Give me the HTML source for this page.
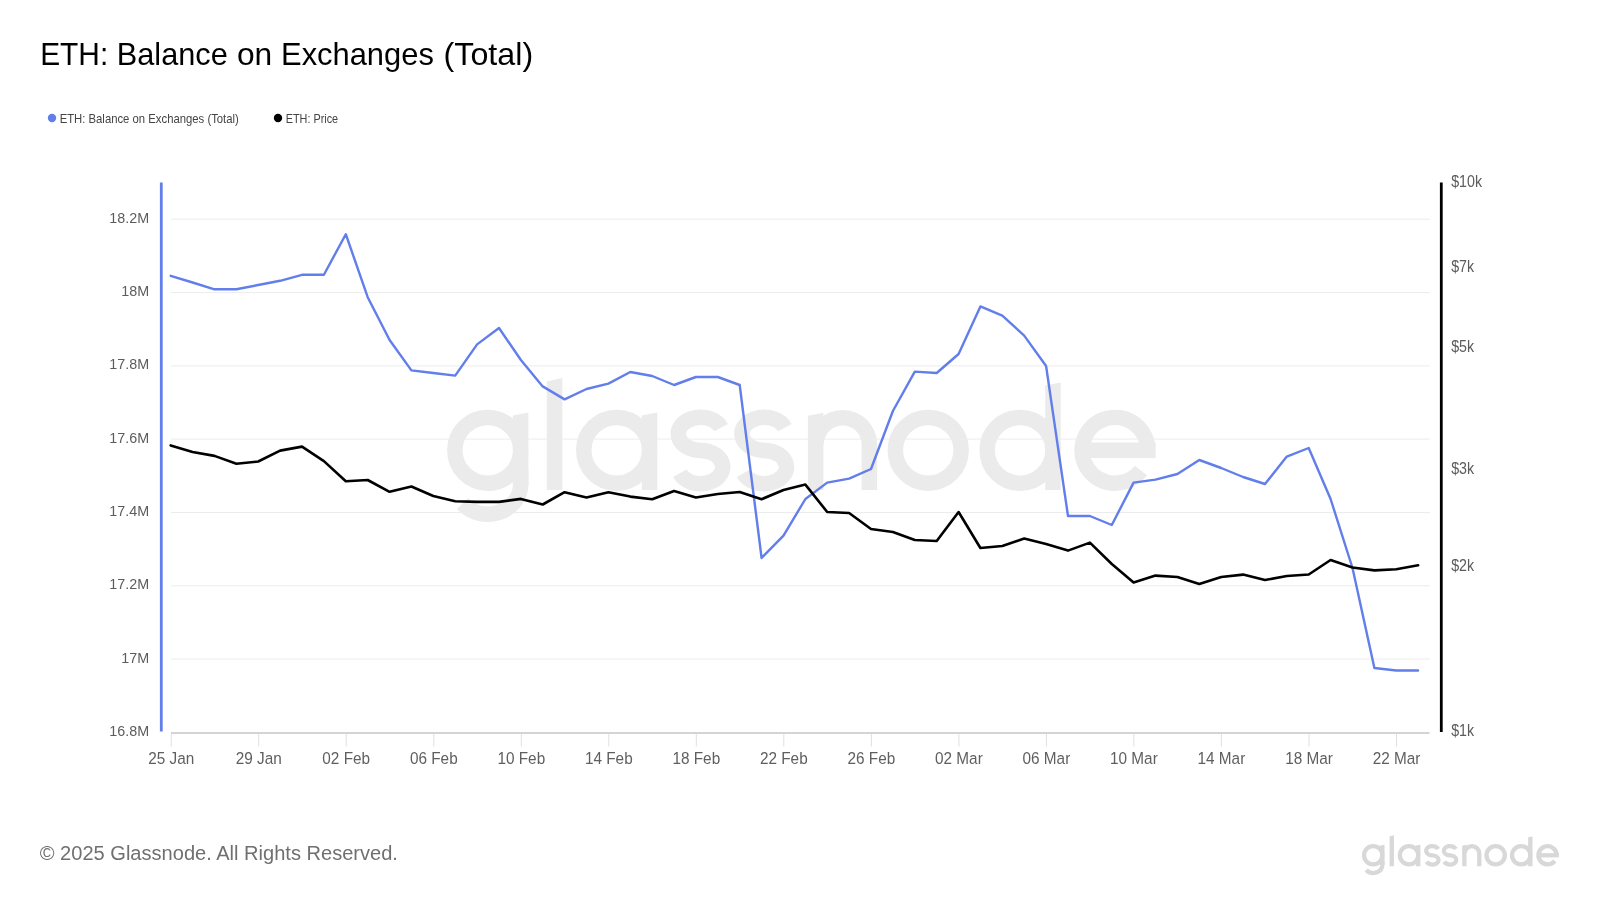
<!DOCTYPE html>
<html><head><meta charset="utf-8"><title>ETH: Balance on Exchanges (Total)</title>
<style>html,body{margin:0;padding:0;background:#fff;width:1600px;height:900px;overflow:hidden}
svg{position:absolute;left:0;top:0;display:block;will-change:transform}</style></head>
<body><svg width="1600" height="900" viewBox="0 0 1600 900">
<defs><g id="gn"><circle cx="487.75" cy="450.3" r="32.9" fill="none" stroke-width="15.5"/>
<path d="M512.90 415.50L528.40 412.50L528.40 486.00L512.90 486.00Z" stroke="none"/>
<path d="M520.65 470L520.65 484.5A32.9 29.75 0 0 1 462.55 503.62" fill="none" stroke-width="15.5"/>
<path d="M546.80 381.60L562.30 378.00L562.30 490.00L546.80 490.00Z" stroke="none"/>
<circle cx="616.65" cy="450.3" r="32.9" fill="none" stroke-width="15.5"/>
<path d="M641.80 415.50L657.30 412.50L657.30 490.00L641.80 490.00Z" stroke="none"/>
<path d="M721.13 427.63A22.25 16.6 0 1 0 700.50 450.45A22.25 16.6 0 1 1 679.87 473.27" fill="none" stroke-width="15.5"/>
<path d="M784.83 427.63A22.25 16.6 0 1 0 764.20 450.45A22.25 16.6 0 1 1 743.57 473.27" fill="none" stroke-width="15.5"/>
<path d="M807.90 415.80L823.40 412.70L823.40 490.00L807.90 490.00Z" stroke="none"/>
<path d="M816.05 444.3A26.65 26.65 0 0 1 869.35 444.3L869.35 490.0" fill="none" stroke-width="15.5"/>
<circle cx="928.25" cy="450.3" r="32.9" fill="none" stroke-width="15.5"/>
<circle cx="1020.05" cy="450.3" r="32.9" fill="none" stroke-width="15.5"/>
<path d="M1045.20 385.50L1060.70 382.40L1060.70 490.00L1045.20 490.00Z" stroke="none"/>
<path d="M1147.85 450.3A32.9 32.9 0 1 0 1140.88 470.56" fill="none" stroke-width="15.5"/>
<rect x="1082.05" y="442.55" width="73.55" height="15.5" stroke="none"/></g></defs>
<g fill="#ebebeb" stroke="#ebebeb"><use href="#gn"/></g>
<line x1="171" y1="219.2" x2="1430" y2="219.2" stroke="#ececec" stroke-width="1"/>
<line x1="171" y1="292.6" x2="1430" y2="292.6" stroke="#ececec" stroke-width="1"/>
<line x1="171" y1="365.9" x2="1430" y2="365.9" stroke="#ececec" stroke-width="1"/>
<line x1="171" y1="439.1" x2="1430" y2="439.1" stroke="#ececec" stroke-width="1"/>
<line x1="171" y1="512.5" x2="1430" y2="512.5" stroke="#ececec" stroke-width="1"/>
<line x1="171" y1="585.8" x2="1430" y2="585.8" stroke="#ececec" stroke-width="1"/>
<line x1="171" y1="659.0" x2="1430" y2="659.0" stroke="#ececec" stroke-width="1"/>
<line x1="171" y1="733" x2="1429.5" y2="733" stroke="#d4d4d4" stroke-width="2"/>
<line x1="171.2" y1="734" x2="171.2" y2="746.5" stroke="#e0e0e0" stroke-width="1"/>
<text transform="translate(171.2,763.8) scale(0.93,1)" text-anchor="middle" font-family="Liberation Sans" font-size="16.5" fill="#5f5f5f">25 Jan</text>
<line x1="258.7" y1="734" x2="258.7" y2="746.5" stroke="#e0e0e0" stroke-width="1"/>
<text transform="translate(258.7,763.8) scale(0.93,1)" text-anchor="middle" font-family="Liberation Sans" font-size="16.5" fill="#5f5f5f">29 Jan</text>
<line x1="346.2" y1="734" x2="346.2" y2="746.5" stroke="#e0e0e0" stroke-width="1"/>
<text transform="translate(346.2,763.8) scale(0.93,1)" text-anchor="middle" font-family="Liberation Sans" font-size="16.5" fill="#5f5f5f">02 Feb</text>
<line x1="433.8" y1="734" x2="433.8" y2="746.5" stroke="#e0e0e0" stroke-width="1"/>
<text transform="translate(433.8,763.8) scale(0.93,1)" text-anchor="middle" font-family="Liberation Sans" font-size="16.5" fill="#5f5f5f">06 Feb</text>
<line x1="521.3" y1="734" x2="521.3" y2="746.5" stroke="#e0e0e0" stroke-width="1"/>
<text transform="translate(521.3,763.8) scale(0.93,1)" text-anchor="middle" font-family="Liberation Sans" font-size="16.5" fill="#5f5f5f">10 Feb</text>
<line x1="608.8" y1="734" x2="608.8" y2="746.5" stroke="#e0e0e0" stroke-width="1"/>
<text transform="translate(608.8,763.8) scale(0.93,1)" text-anchor="middle" font-family="Liberation Sans" font-size="16.5" fill="#5f5f5f">14 Feb</text>
<line x1="696.3" y1="734" x2="696.3" y2="746.5" stroke="#e0e0e0" stroke-width="1"/>
<text transform="translate(696.3,763.8) scale(0.93,1)" text-anchor="middle" font-family="Liberation Sans" font-size="16.5" fill="#5f5f5f">18 Feb</text>
<line x1="783.8" y1="734" x2="783.8" y2="746.5" stroke="#e0e0e0" stroke-width="1"/>
<text transform="translate(783.8,763.8) scale(0.93,1)" text-anchor="middle" font-family="Liberation Sans" font-size="16.5" fill="#5f5f5f">22 Feb</text>
<line x1="871.4" y1="734" x2="871.4" y2="746.5" stroke="#e0e0e0" stroke-width="1"/>
<text transform="translate(871.4,763.8) scale(0.93,1)" text-anchor="middle" font-family="Liberation Sans" font-size="16.5" fill="#5f5f5f">26 Feb</text>
<line x1="958.9" y1="734" x2="958.9" y2="746.5" stroke="#e0e0e0" stroke-width="1"/>
<text transform="translate(958.9,763.8) scale(0.93,1)" text-anchor="middle" font-family="Liberation Sans" font-size="16.5" fill="#5f5f5f">02 Mar</text>
<line x1="1046.4" y1="734" x2="1046.4" y2="746.5" stroke="#e0e0e0" stroke-width="1"/>
<text transform="translate(1046.4,763.8) scale(0.93,1)" text-anchor="middle" font-family="Liberation Sans" font-size="16.5" fill="#5f5f5f">06 Mar</text>
<line x1="1133.9" y1="734" x2="1133.9" y2="746.5" stroke="#e0e0e0" stroke-width="1"/>
<text transform="translate(1133.9,763.8) scale(0.93,1)" text-anchor="middle" font-family="Liberation Sans" font-size="16.5" fill="#5f5f5f">10 Mar</text>
<line x1="1221.4" y1="734" x2="1221.4" y2="746.5" stroke="#e0e0e0" stroke-width="1"/>
<text transform="translate(1221.4,763.8) scale(0.93,1)" text-anchor="middle" font-family="Liberation Sans" font-size="16.5" fill="#5f5f5f">14 Mar</text>
<line x1="1309.0" y1="734" x2="1309.0" y2="746.5" stroke="#e0e0e0" stroke-width="1"/>
<text transform="translate(1309.0,763.8) scale(0.93,1)" text-anchor="middle" font-family="Liberation Sans" font-size="16.5" fill="#5f5f5f">18 Mar</text>
<line x1="1396.5" y1="734" x2="1396.5" y2="746.5" stroke="#e0e0e0" stroke-width="1"/>
<text transform="translate(1396.5,763.8) scale(0.93,1)" text-anchor="middle" font-family="Liberation Sans" font-size="16.5" fill="#5f5f5f">22 Mar</text>
<line x1="161.3" y1="182.6" x2="161.3" y2="731.6" stroke="#627EEA" stroke-width="2.8"/>
<text transform="translate(149.2,222.70) scale(0.95,1)" text-anchor="end" font-family="Liberation Sans" font-size="15.1" fill="#5c5c5c">18.2M</text>
<text transform="translate(149.2,296.00) scale(0.95,1)" text-anchor="end" font-family="Liberation Sans" font-size="15.1" fill="#5c5c5c">18M</text>
<text transform="translate(149.2,369.30) scale(0.95,1)" text-anchor="end" font-family="Liberation Sans" font-size="15.1" fill="#5c5c5c">17.8M</text>
<text transform="translate(149.2,442.60) scale(0.95,1)" text-anchor="end" font-family="Liberation Sans" font-size="15.1" fill="#5c5c5c">17.6M</text>
<text transform="translate(149.2,515.90) scale(0.95,1)" text-anchor="end" font-family="Liberation Sans" font-size="15.1" fill="#5c5c5c">17.4M</text>
<text transform="translate(149.2,589.20) scale(0.95,1)" text-anchor="end" font-family="Liberation Sans" font-size="15.1" fill="#5c5c5c">17.2M</text>
<text transform="translate(149.2,662.50) scale(0.95,1)" text-anchor="end" font-family="Liberation Sans" font-size="15.1" fill="#5c5c5c">17M</text>
<text transform="translate(149.2,735.80) scale(0.95,1)" text-anchor="end" font-family="Liberation Sans" font-size="15.1" fill="#5c5c5c">16.8M</text>
<line x1="1441.3" y1="182.6" x2="1441.3" y2="732" stroke="#000" stroke-width="2.8"/>
<text transform="translate(1451.2,186.8) scale(0.885,1)" font-family="Liberation Sans" font-size="16.1" fill="#5c5c5c">$10k</text>
<text transform="translate(1451.2,271.9) scale(0.885,1)" font-family="Liberation Sans" font-size="16.1" fill="#5c5c5c">$7k</text>
<text transform="translate(1451.2,352.2) scale(0.885,1)" font-family="Liberation Sans" font-size="16.1" fill="#5c5c5c">$5k</text>
<text transform="translate(1451.2,474.1) scale(0.885,1)" font-family="Liberation Sans" font-size="16.1" fill="#5c5c5c">$3k</text>
<text transform="translate(1451.2,570.8) scale(0.885,1)" font-family="Liberation Sans" font-size="16.1" fill="#5c5c5c">$2k</text>
<text transform="translate(1451.2,736.2) scale(0.885,1)" font-family="Liberation Sans" font-size="16.1" fill="#5c5c5c">$1k</text>
<polyline points="170.7,275.8 192.6,282.5 214.5,289.3 236.4,289.3 258.2,285.0 280.1,280.8 302.0,274.8 323.9,274.8 345.8,234.2 367.7,297.2 389.6,340.0 411.4,370.4 433.3,373.0 455.2,375.6 477.1,344.4 499.0,328.0 520.9,360.0 542.7,386.4 564.6,399.4 586.5,389.0 608.4,383.6 630.3,372.0 652.2,376.0 674.1,385.0 695.9,377.0 717.8,377.0 739.7,385.0 761.6,558.0 783.5,535.6 805.4,499.0 827.2,482.6 849.1,478.6 871.0,469.0 892.9,411.0 914.8,371.6 936.7,373.0 958.6,354.0 980.4,306.4 1002.3,315.6 1024.2,335.6 1046.1,366.0 1068.0,516.0 1089.9,516.0 1111.8,525.0 1133.6,482.6 1155.5,479.6 1177.4,474.0 1199.3,460.0 1221.2,468.0 1243.1,477.0 1265.0,484.0 1286.8,456.6 1308.7,448.0 1330.6,499.0 1352.5,568.0 1374.4,668.0 1396.3,670.5 1418.1,670.5" fill="none" stroke="#627EEA" stroke-width="2.4" stroke-linejoin="round" stroke-linecap="round"/>
<polyline points="170.7,445.4 192.6,452.0 214.5,455.9 236.4,463.8 258.2,461.5 280.1,450.6 302.0,446.6 323.9,461.1 345.8,481.2 367.7,480.0 389.6,491.8 411.4,486.5 433.3,496.0 455.2,501.2 477.1,501.9 499.0,501.9 520.9,498.9 542.7,504.5 564.6,492.2 586.5,497.5 608.4,492.2 630.3,496.6 652.2,499.2 674.1,491.0 695.9,497.5 717.8,494.0 739.7,492.0 761.6,499.2 783.5,490.0 805.4,484.6 827.2,512.0 849.1,513.0 871.0,529.0 892.9,532.0 914.8,540.0 936.7,541.0 958.6,512.0 980.4,548.0 1002.3,546.0 1024.2,538.6 1046.1,544.0 1068.0,550.6 1089.9,542.6 1111.8,564.0 1133.6,582.4 1155.5,575.6 1177.4,577.0 1199.3,584.0 1221.2,577.0 1243.1,574.6 1265.0,580.0 1286.8,576.0 1308.7,574.5 1330.6,560.0 1352.5,567.5 1374.4,570.4 1396.3,569.2 1418.1,565.3" fill="none" stroke="#000" stroke-width="2.6" stroke-linejoin="round" stroke-linecap="round"/>
<g font-family="Liberation Sans" font-size="31.5" fill="#000">
<text x="40.2" y="65" textLength="68.02" lengthAdjust="spacingAndGlyphs">ETH:</text>
<text x="116.8" y="65" textLength="110.92" lengthAdjust="spacingAndGlyphs">Balance</text>
<text x="236.99" y="65" textLength="35.27" lengthAdjust="spacingAndGlyphs">on</text>
<text x="281.04" y="65" textLength="152.8" lengthAdjust="spacingAndGlyphs">Exchanges</text>
<text x="443.55" y="65" textLength="89.62" lengthAdjust="spacingAndGlyphs">(Total)</text>
</g>
<circle cx="52" cy="118" r="4.2" fill="#627EEA"/>
<text x="59.63" y="123.1" font-family="Liberation Sans" font-size="13" fill="#444" textLength="179.2" lengthAdjust="spacingAndGlyphs">ETH: Balance on Exchanges (Total)</text>
<circle cx="278" cy="118" r="4.2" fill="#000"/>
<text x="285.66" y="123.1" font-family="Liberation Sans" font-size="13" fill="#444" textLength="52.5" lengthAdjust="spacingAndGlyphs">ETH: Price</text>
<text x="39.75" y="859.8" font-family="Liberation Sans" font-size="20" fill="#707070" textLength="358.2" lengthAdjust="spacingAndGlyphs">© 2025 Glassnode. All Rights Reserved.</text>
<g fill="#d8d8d8" stroke="#d8d8d8" transform="translate(1237.61,730.08) scale(0.278)"><use href="#gn"/></g>
</svg></body></html>
